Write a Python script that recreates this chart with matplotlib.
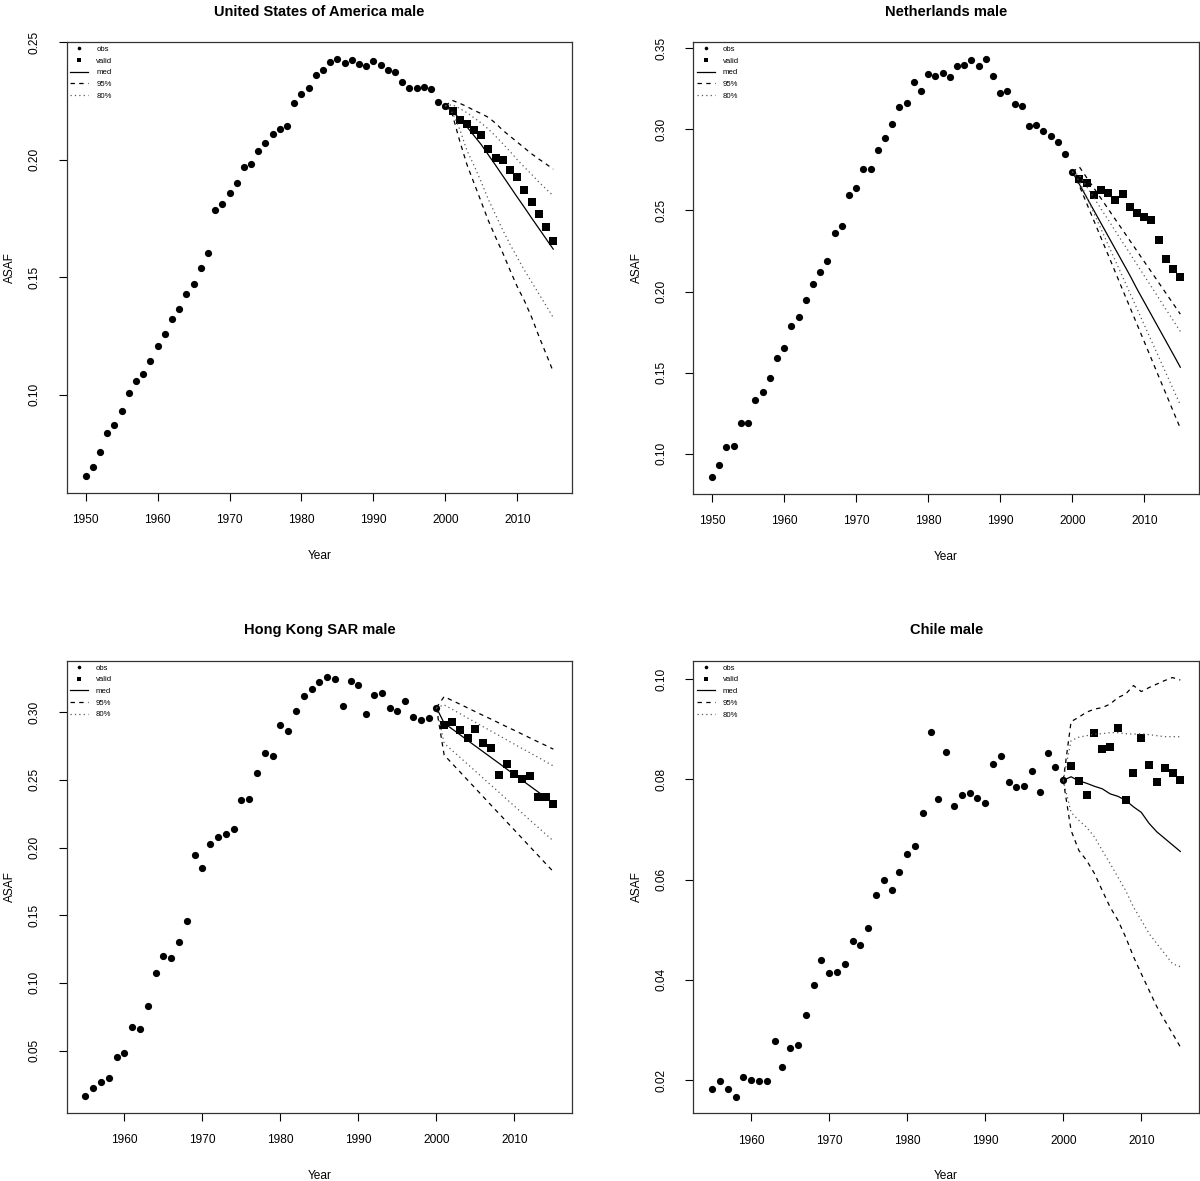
import numpy as np
import matplotlib
matplotlib.use("Agg")
import matplotlib.pyplot as plt
from matplotlib.lines import Line2D

plt.rcParams['font.family'] = ['Liberation Sans', 'DejaVu Sans']

# ---- United States of America male ----
us_obs_years = np.arange(1950, 2001)
us_obs = [0.0654, 0.0695, 0.0759, 0.0837, 0.0874, 0.0933, 0.1007, 0.1057, 0.1089, 0.1143,
          0.1206, 0.1260, 0.1323, 0.1367, 0.1427, 0.1472, 0.1540, 0.1604, 0.1786, 0.1810,
          0.1860, 0.1901, 0.1970, 0.1984, 0.2037, 0.2071, 0.2111, 0.2129, 0.2142, 0.2241,
          0.2278, 0.2306, 0.2359, 0.2383, 0.2416, 0.2430, 0.2413, 0.2423, 0.2407, 0.2399,
          0.2420, 0.2404, 0.2383, 0.2372, 0.2329, 0.2306, 0.2304, 0.2311, 0.2302, 0.2244,
          0.2230]
us_valid = [0.2206, 0.2170, 0.2150, 0.2128, 0.2105, 0.2045, 0.2009, 0.1999, 0.1956, 0.1928,
            0.1870, 0.1821, 0.1769, 0.1713, 0.1654]
us_med = [0.2230, 0.2205, 0.2175, 0.2140, 0.2102, 0.2064, 0.2020, 0.1976, 0.1931, 0.1886,
          0.1841, 0.1797, 0.1752, 0.1708, 0.1664, 0.1620]
us_u95 = [0.2230, 0.2252, 0.2240, 0.2226, 0.2210, 0.2196, 0.2180, 0.2155, 0.2125, 0.2100,
          0.2075, 0.2050, 0.2025, 0.2003, 0.1982, 0.1960]
us_l95 = [0.2230, 0.2190, 0.2080, 0.1980, 0.1900, 0.1820, 0.1740, 0.1670, 0.1603, 0.1530,
          0.1460, 0.1400, 0.1330, 0.1250, 0.1175, 0.1099]
us_u80 = [0.2230, 0.2234, 0.2218, 0.2200, 0.2178, 0.2156, 0.2130, 0.2100, 0.2068, 0.2035,
          0.2000, 0.1968, 0.1938, 0.1905, 0.1876, 0.1847]
us_l80 = [0.2230, 0.2200, 0.2130, 0.2040, 0.1975, 0.1905, 0.1830, 0.1765, 0.1700, 0.1640,
          0.1585, 0.1530, 0.1480, 0.1430, 0.1380, 0.1329]

# ---- Netherlands male ----
nl_obs_years = np.arange(1950, 2001)
nl_obs = [0.0856, 0.0932, 0.1045, 0.1049, 0.1193, 0.1193, 0.1329, 0.1380, 0.1466, 0.1588,
          0.1653, 0.1787, 0.1842, 0.1951, 0.2046, 0.2120, 0.2189, 0.2358, 0.2401, 0.2592,
          0.2641, 0.2756, 0.2756, 0.2871, 0.2945, 0.3032, 0.3136, 0.3161, 0.3288, 0.3233,
          0.3342, 0.3329, 0.3346, 0.3323, 0.3387, 0.3397, 0.3426, 0.3387, 0.3434, 0.3325,
          0.3221, 0.3237, 0.3155, 0.3145, 0.3021, 0.3025, 0.2991, 0.2956, 0.2921, 0.2845,
          0.2738]
nl_valid = [0.2691, 0.2668, 0.2594, 0.2625, 0.2608, 0.2565, 0.2604, 0.2518, 0.2487, 0.2461,
            0.2442, 0.2319, 0.2202, 0.2136, 0.2091]
nl_med = [0.2738, 0.2660, 0.2580, 0.2500, 0.2420, 0.2340, 0.2260, 0.2180, 0.2100, 0.2015,
          0.1935, 0.1855, 0.1775, 0.1695, 0.1615, 0.1534]
nl_u95 = [0.2738, 0.2767, 0.2702, 0.2638, 0.2573, 0.2508, 0.2443, 0.2379, 0.2314, 0.2249,
          0.2184, 0.2120, 0.2055, 0.1990, 0.1926, 0.1861]
nl_l95 = [0.2738, 0.2650, 0.2543, 0.2437, 0.2330, 0.2224, 0.2117, 0.2010, 0.1904, 0.1797,
          0.1691, 0.1584, 0.1477, 0.1371, 0.1264, 0.1158]
nl_u80 = [0.2738, 0.2715, 0.2646, 0.2578, 0.2509, 0.2441, 0.2372, 0.2303, 0.2235, 0.2166,
          0.2097, 0.2029, 0.1960, 0.1891, 0.1823, 0.1754]
nl_l80 = [0.2738, 0.2680, 0.2582, 0.2483, 0.2385, 0.2286, 0.2188, 0.2090, 0.1991, 0.1893,
          0.1794, 0.1696, 0.1597, 0.1499, 0.1400, 0.1302]

# ---- Hong Kong SAR male ----
hk_obs_years = np.arange(1955, 2001)
hk_obs = [0.0163, 0.0222, 0.0271, 0.0296, 0.0453, 0.0485, 0.0675, 0.0660, 0.0833, 0.1071,
          0.1200, 0.1187, 0.1303, 0.1458, 0.1946, 0.1852, 0.2025, 0.2079, 0.2103, 0.2140,
          0.2352, 0.2360, 0.2554, 0.2697, 0.2677, 0.2909, 0.2862, 0.3007, 0.3116, 0.3172,
          0.3224, 0.3257, 0.3246, 0.3047, 0.3232, 0.3204, 0.2988, 0.3128, 0.3140, 0.3032,
          0.3007, 0.3079, 0.2966, 0.2941, 0.2956, 0.3034]
hk_valid = [0.2906, 0.2926, 0.2865, 0.2813, 0.2877, 0.2771, 0.2734, 0.2534, 0.2616, 0.2547,
            0.2510, 0.2532, 0.2377, 0.2372, 0.2320]
hk_med = [0.3034, 0.2919, 0.2877, 0.2835, 0.2792, 0.2750, 0.2708, 0.2666, 0.2624, 0.2581,
          0.2539, 0.2497, 0.2455, 0.2413, 0.2370, 0.2328]
hk_u95 = [0.3034, 0.3115, 0.3087, 0.3060, 0.3032, 0.3004, 0.2976, 0.2949, 0.2921, 0.2893,
          0.2866, 0.2838, 0.2810, 0.2782, 0.2755, 0.2727]
hk_l95 = [0.3034, 0.2684, 0.2622, 0.2561, 0.2499, 0.2438, 0.2376, 0.2314, 0.2253, 0.2191,
          0.2130, 0.2068, 0.2006, 0.1945, 0.1883, 0.1822]
hk_u80 = [0.3034, 0.3054, 0.3022, 0.2990, 0.2957, 0.2925, 0.2893, 0.2861, 0.2829, 0.2796,
          0.2764, 0.2732, 0.2700, 0.2668, 0.2635, 0.2603]
hk_l80 = [0.3034, 0.2771, 0.2719, 0.2668, 0.2616, 0.2565, 0.2513, 0.2461, 0.2410, 0.2358,
          0.2307, 0.2255, 0.2203, 0.2152, 0.2100, 0.2049]

# ---- Chile male ----
cl_obs_years = np.arange(1955, 2001)
cl_obs = [0.0183, 0.0199, 0.0183, 0.0167, 0.0207, 0.0200, 0.0199, 0.0199, 0.0277, 0.0226,
          0.0263, 0.0270, 0.0329, 0.0389, 0.0440, 0.0414, 0.0416, 0.0432, 0.0478, 0.0469,
          0.0503, 0.0569, 0.0600, 0.0579, 0.0616, 0.0650, 0.0667, 0.0732, 0.0894, 0.0761,
          0.0855, 0.0746, 0.0768, 0.0772, 0.0762, 0.0753, 0.0830, 0.0847, 0.0794, 0.0785,
          0.0787, 0.0817, 0.0775, 0.0852, 0.0825, 0.0798]
cl_valid = [0.0826, 0.0797, 0.0768, 0.0893, 0.0861, 0.0865, 0.0902, 0.0759, 0.0813, 0.0882,
            0.0828, 0.0794, 0.0823, 0.0812, 0.0798]
cl_med = [0.0798, 0.0805, 0.0797, 0.0792, 0.0786, 0.0781, 0.0771, 0.0766, 0.0758, 0.0745,
          0.0734, 0.0712, 0.0695, 0.0682, 0.0669, 0.0656]
cl_u95 = [0.0798, 0.0915, 0.0924, 0.0934, 0.0940, 0.0943, 0.0950, 0.0963, 0.0970, 0.0987,
          0.0975, 0.0983, 0.0990, 0.0997, 0.1003, 0.0998]
cl_l95 = [0.0798, 0.0698, 0.0658, 0.0638, 0.0612, 0.0578, 0.0545, 0.0519, 0.0485, 0.0446,
          0.0412, 0.0379, 0.0346, 0.0319, 0.0293, 0.0266]
cl_u80 = [0.0798, 0.0877, 0.0884, 0.0887, 0.0890, 0.0891, 0.0893, 0.0893, 0.0891, 0.0890,
          0.0891, 0.0889, 0.0887, 0.0885, 0.0885, 0.0885]
cl_l80 = [0.0798, 0.0734, 0.0718, 0.0704, 0.0685, 0.0658, 0.0632, 0.0605, 0.0578, 0.0545,
          0.0519, 0.0492, 0.0472, 0.0452, 0.0432, 0.0426]

valid_years = np.arange(2001, 2016)
proj_years = np.arange(2000, 2016)


def draw_panel(ax, title, obs_years, obs, valid, med, u95, l95, u80, l80, xticks, yticks):
    ax.plot(obs_years, obs, 'o', color='black', markersize=5.2, markeredgewidth=0)
    ax.plot(valid_years, valid, 's', color='black', markersize=5.4, markeredgewidth=0)
    ax.plot(proj_years, med, '-', color='black', linewidth=0.9)
    for band in (u95, l95):
        ax.plot(proj_years, band, color='black', linewidth=0.9, dashes=(3.5, 3.5))
    for band in (u80, l80):
        ax.plot(proj_years, band, color='0.35', linewidth=0.9, dashes=(1, 2.5))

    ax.margins(x=0.04, y=0.04)
    ax.set_xticks(xticks)
    ax.set_yticks(yticks)
    ax.set_yticklabels(['%.2f' % v for v in yticks], rotation=90, va='center')
    ax.tick_params(axis='both', direction='out', length=5.8, width=0.8, labelsize=8.6)
    ax.tick_params(axis='x', pad=9.5)
    ax.tick_params(axis='y', pad=13)
    for sp in ax.spines.values():
        sp.set_linewidth(0.9)
        sp.set_color('0.2')

    ax.set_title(title, fontsize=10.5, fontweight='bold', pad=19)
    ax.set_xlabel('Year', fontsize=8.6, labelpad=17)
    ax.set_ylabel('ASAF', fontsize=8.6, labelpad=9)

    handles = [
        Line2D([], [], linestyle='none', marker='o', color='black', markersize=2.6, markeredgewidth=0),
        Line2D([], [], linestyle='none', marker='s', color='black', markersize=2.8, markeredgewidth=0),
        Line2D([], [], color='black', linewidth=0.9),
        Line2D([], [], color='black', linewidth=0.9, dashes=(3.5, 3.5)),
        Line2D([], [], color='0.35', linewidth=0.9, dashes=(1, 2.5)),
    ]
    ax.legend(handles, ['obs', 'valid', 'med', '95%', '80%'], loc='upper left',
              frameon=False, fontsize=5.6, handlelength=2.3, handletextpad=1.0,
              labelspacing=0.55, borderaxespad=0.0, borderpad=0.45)


fig = plt.figure(figsize=(12, 11.81), dpi=100)
ax1 = fig.add_axes([0.0558, 0.5826, 0.4208, 0.3819])
ax2 = fig.add_axes([0.5778, 0.5817, 0.4214, 0.3827])
ax3 = fig.add_axes([0.0556, 0.0576, 0.4211, 0.3830])
ax4 = fig.add_axes([0.5778, 0.0573, 0.4214, 0.3832])

draw_panel(ax1, 'United States of America male', us_obs_years, us_obs, us_valid,
           us_med, us_u95, us_l95, us_u80, us_l80,
           [1950, 1960, 1970, 1980, 1990, 2000, 2010], [0.10, 0.15, 0.20, 0.25])
draw_panel(ax2, 'Netherlands male', nl_obs_years, nl_obs, nl_valid,
           nl_med, nl_u95, nl_l95, nl_u80, nl_l80,
           [1950, 1960, 1970, 1980, 1990, 2000, 2010], [0.10, 0.15, 0.20, 0.25, 0.30, 0.35])
draw_panel(ax3, 'Hong Kong SAR male', hk_obs_years, hk_obs, hk_valid,
           hk_med, hk_u95, hk_l95, hk_u80, hk_l80,
           [1960, 1970, 1980, 1990, 2000, 2010], [0.05, 0.10, 0.15, 0.20, 0.25, 0.30])
draw_panel(ax4, 'Chile male', cl_obs_years, cl_obs, cl_valid,
           cl_med, cl_u95, cl_l95, cl_u80, cl_l80,
           [1960, 1970, 1980, 1990, 2000, 2010], [0.02, 0.04, 0.06, 0.08, 0.10])

fig.savefig('out.png', dpi=100)
